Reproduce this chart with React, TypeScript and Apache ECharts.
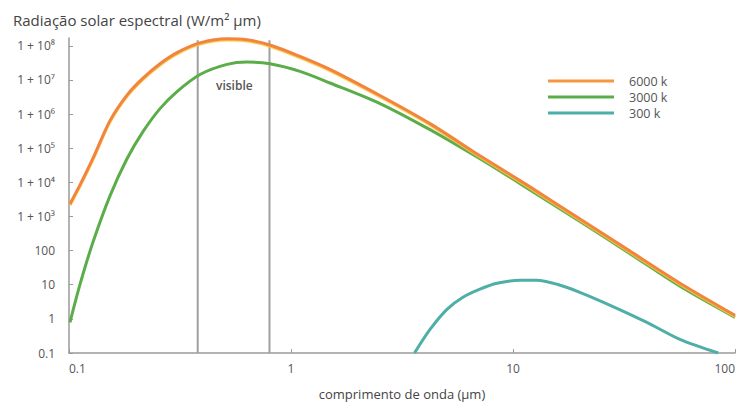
import React, { useEffect, useRef } from 'react';
import * as echarts from 'echarts';

// wavelength (µm) and spectral radiation (W/m² µm)
const wavelengths = [0.101, 0.1121, 0.1283, 0.153, 0.1825, 0.2154, 0.257, 0.3066, 0.3892, 0.5148, 0.6334, 0.8043, 1.098, 1.498, 2.517, 4.228, 7.101, 11.93, 20.04, 33.65, 56.54, 100];
const radiation6000 = [2330, 8440, 5.11e4, 6.44e5, 3.62e6, 1.13e7, 2.99e7, 6.35e7, 1.22e8, 1.61e8, 1.5e8, 1.06e8, 4.91e7, 2.04e7, 3.5e6, 5.26e5, 6.02e4, 7.38e3, 844, 96.7, 11.1, 1.27];
const radiation3000 = [0.79, 10.3, 178, 4.01e3, 4.91e4, 3.06e5, 1.45e6, 4.59e6, 1.45e7, 2.86e7, 3.36e7, 2.98e7, 1.78e7, 8.16e6, 2.04e6, 3.5e5, 4.91e4, 6.02e3, 713, 81.6, 9.03, 1.11];

const wavelength300 = [3.6, 4.23, 5.04, 5.95, 7.1, 8.47, 10.8, 12.8, 15.8, 20, 28.2, 40.1, 56.5, 84];
const radiation300 = [0.1, 0.49, 1.9, 4.3, 7.4, 11, 13.5, 13.5, 10.3, 6.0, 2.3, 0.79, 0.25, 0.1];

const seriesNames = ['6000 k', '3000 k', '300 k'];
const visibleBounds = [0.38, 0.8];
const visibleTop = 1.45e8;
const yTickLabels = ['0.1', '1', '10', '100', '1 + 10³', '1 + 10⁴', '1 + 10⁵', '1 + 10⁶', '1 + 10⁷', '1 + 10⁸'];
const xTickLabels = ['0.1', '1', '10', '100'];

const FONT = "'Open Sans', 'DejaVu Sans', sans-serif";

function zip(xs: number[], ys: number[]) {
  return xs.map((x, i) => [x, ys[i]]);
}

export default function App() {
  const ref = useRef<HTMLDivElement>(null);
  useEffect(() => {
    const chart = echarts.init(ref.current!, null, { renderer: 'svg' });
    const visibleSeries = visibleBounds.map((b) => ({
      type: 'line',
      data: [[b, 0.1], [b, visibleTop]],
      symbol: 'none',
      silent: true,
      lineStyle: { color: '#a0a0a0', width: 2 },
      z: 1,
    }));
    chart.setOption({
      animation: false,
      textStyle: { fontFamily: FONT },
      grid: { left: 69, right: 6, top: 38, bottom: 52 },
      title: {
        text: 'Radiação solar espectral (W/m² µm)',
        left: 8,
        top: 7,
        textStyle: { fontFamily: FONT, fontSize: 15, fontWeight: 'normal', color: '#444' },
      },
      legend: {
        data: seriesNames,
        orient: 'vertical',
        left: 543,
        top: 68,
        icon: 'rect',
        itemWidth: 66,
        itemHeight: 3,
        itemGap: 0,
        textStyle: { fontFamily: FONT, fontSize: 12.5, color: '#555', lineHeight: 16, padding: [0, 0, 0, 10] },
      },
      xAxis: {
        type: 'log',
        logBase: 10,
        min: 0.1,
        max: 100,
        name: 'comprimento de onda (µm)',
        nameLocation: 'middle',
        nameGap: 34,
        nameTextStyle: { fontFamily: FONT, fontSize: 13, color: '#444' },
        axisLine: { lineStyle: { color: '#9a9a9a', width: 1.5 } },
        axisTick: { show: true, inside: true, length: 4, lineStyle: { color: '#9a9a9a' } },
        axisLabel: {
          fontFamily: FONT,
          fontSize: 12,
          color: '#555',
          margin: 9,
          alignMinLabel: 'left',
          alignMaxLabel: 'right',
          formatter: (v: number) => {
            const e = Math.log10(v);
            const r = Math.round(e);
            if (Math.abs(e - r) > 1e-6) return '';
            return xTickLabels[r + 1] ?? '';
          },
        },
        splitLine: { show: false },
        minorTick: { show: false },
      },
      yAxis: {
        type: 'log',
        logBase: 10,
        min: 0.1,
        max: 1.7e8,
        axisLine: { show: true, lineStyle: { color: '#9a9a9a', width: 1.5 } },
        axisTick: { show: true, inside: true, length: 4, lineStyle: { color: '#9a9a9a' } },
        axisLabel: {
          fontFamily: FONT,
          fontSize: 12,
          color: '#555',
          margin: 14,
          showMaxLabel: false,
          formatter: (v: number) => {
            const e = Math.log10(v);
            const r = Math.round(e);
            if (Math.abs(e - r) > 1e-6) return '';
            return yTickLabels[r + 1] ?? '';
          },
        },
        splitLine: { show: false },
      },
      graphic: [
        {
          type: 'text',
          left: 216,
          top: 79,
          style: { text: 'visible', fontFamily: FONT, fontSize: 12, fill: '#555', fontWeight: 600 },
        },
      ],
      series: [
        ...visibleSeries,
        {
          name: seriesNames[2],
          type: 'line',
          data: zip(wavelength300, radiation300),
          smooth: 0.3,
          symbol: 'none',
          lineStyle: { color: '#4eaea8', width: 3 },
          itemStyle: { color: '#4eaea8' },
          z: 3,
        },
        {
          name: seriesNames[1],
          type: 'line',
          data: zip(wavelengths, radiation3000),
          smooth: 0.3,
          symbol: 'none',
          lineStyle: { color: '#5aad48', width: 3 },
          itemStyle: { color: '#5aad48' },
          z: 4,
        },
        {
          name: seriesNames[0],
          type: 'line',
          data: zip(wavelengths, radiation6000),
          smooth: 0.3,
          symbol: 'none',
          lineStyle: { color: '#f2843e', width: 3, shadowColor: '#f6c545', shadowOffsetY: 1.2, shadowBlur: 0 },
          itemStyle: { color: '#f4973e' },
          z: 5,
        },
      ],
    });
    return () => chart.dispose();
  }, []);
  return <div ref={ref} style={{ position: 'absolute', left: 0, top: 0, width: 741, height: 405 }} />;
}
